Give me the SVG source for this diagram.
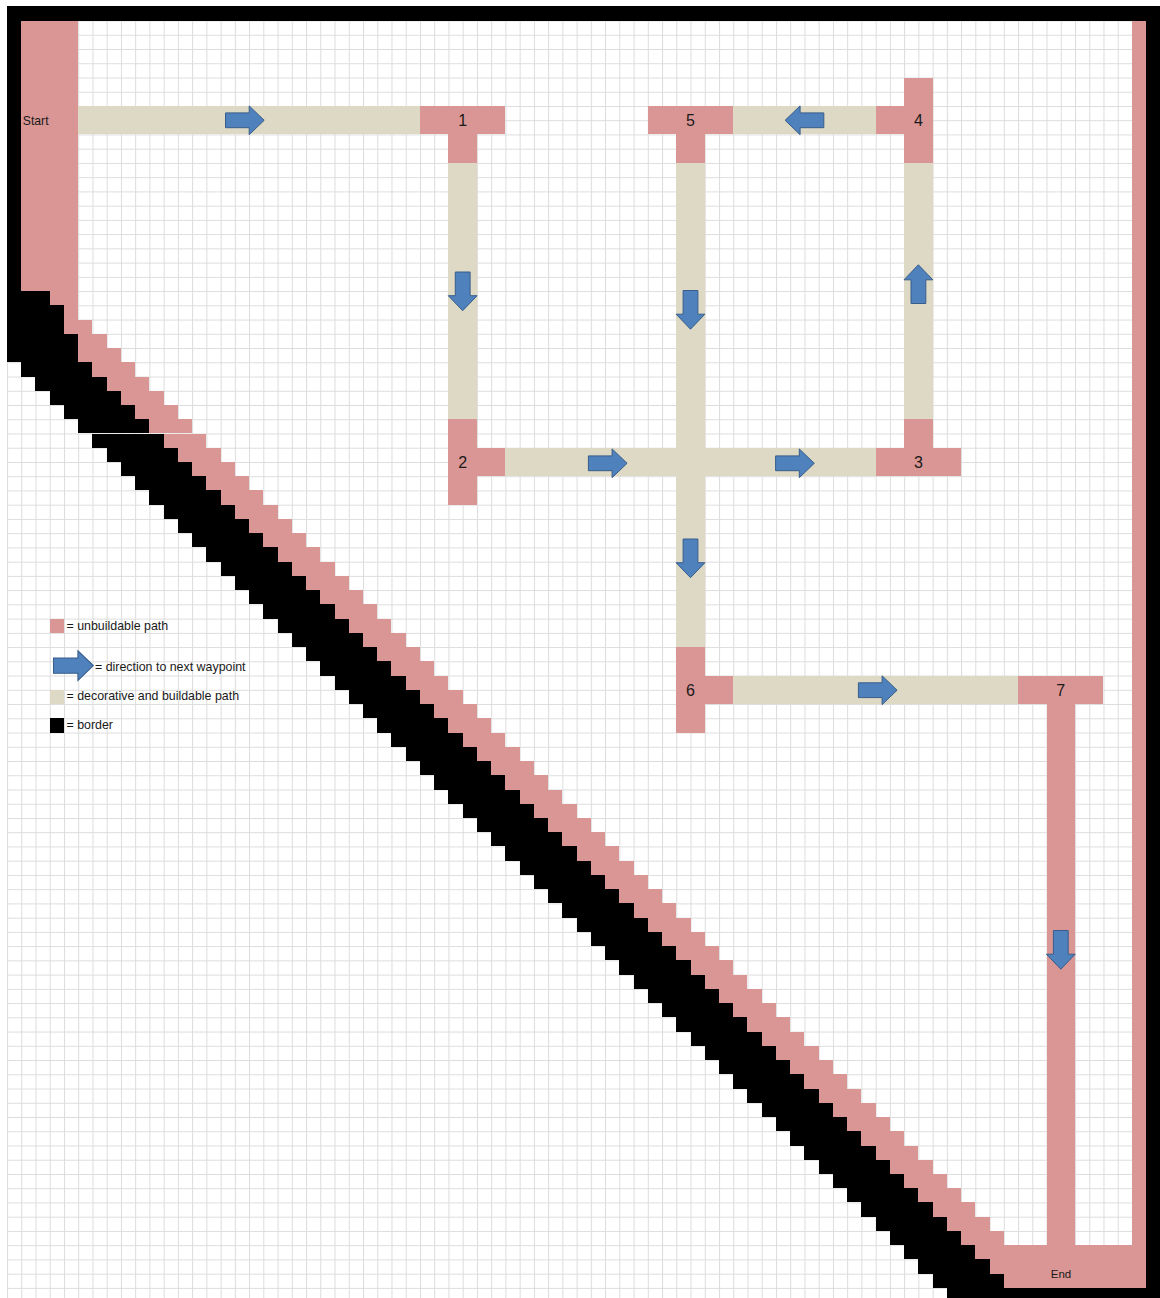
<svg xmlns="http://www.w3.org/2000/svg" width="1160" height="1298" viewBox="0 0 1160 1298">
  <style>
    .pk { fill: #DA9694; }
    .bg { fill: #DDD9C4; }
    .bk { fill: #000000; }
    .arrow { fill: #4F81BD; stroke: #385D8A; stroke-width: 1; }
    .num { font-family: "Liberation Sans", Arial, sans-serif; font-size: 16px; fill: #1a1a1a; text-anchor: middle; }
    .lbl { font-family: "Liberation Sans", Arial, sans-serif; font-size: 12.2px; fill: #1a1a1a; }
    .leg { font-family: "Liberation Sans", Arial, sans-serif; font-size: 12.4px; fill: #1a1a1a; }
  </style>
  <defs>
    <pattern id="grid" x="7" y="6.3" width="14.24" height="14.24" patternUnits="userSpaceOnUse">
      <rect width="14.24" height="14.24" fill="#ffffff"/>
      <path d="M0 0.5H14.24M0.5 0V14.24" stroke="#DCDCDC" stroke-width="1" fill="none"/>
    </pattern>
    <path id="arr" d="M0,-7.4 H23.7 V-14.4 L38.7,0 L23.7,14.4 V7.4 H0 Z"/>
    <!-- diagonal of unit cells, doubled up to 64 cells at (k,k) -->
    <rect id="c0" x="0" y="0" width="1" height="1"/>
    <g id="c1"><use href="#c0"/><use href="#c0" x="1" y="1"/></g>
    <g id="c2"><use href="#c1"/><use href="#c1" x="2" y="2"/></g>
    <g id="c3"><use href="#c2"/><use href="#c2" x="4" y="4"/></g>
    <g id="c4"><use href="#c3"/><use href="#c3" x="8" y="8"/></g>
    <g id="c5"><use href="#c4"/><use href="#c4" x="16" y="16"/></g>
    <g id="c6"><use href="#c5"/><use href="#c5" x="32" y="32"/></g>
  </defs>

  <rect x="0" y="0" width="1160" height="1298" fill="#ffffff"/>
  <rect x="7" y="6.3" width="1153" height="1292" fill="url(#grid)"/>

  <g id="map" transform="translate(7 6.3) scale(14.24)" shape-rendering="crispEdges">
    <g id="border" class="bk">
      <rect x="0" y="0" width="81" height="1"/>
      <rect x="0" y="0" width="1" height="25"/>
      <rect x="80" y="0" width="1" height="92"/>
      <rect x="66" y="90" width="15" height="2"/>
      <rect x="0" y="20" width="3" height="1"/>
      <rect x="0" y="21" width="4" height="2"/>
      <rect x="0" y="23" width="5" height="2"/>
      <use href="#c6" x="1" y="25"/>
      <use href="#c6" x="2" y="25"/>
      <use href="#c6" x="3" y="25"/>
      <use href="#c6" x="4" y="25"/>
      <use href="#c6" x="5" y="25"/>
      <rect x="65" y="89" width="5" height="1"/>
    </g>
    <g id="diagonal-path" class="pk">
      <rect x="3" y="20" width="2" height="1"/>
      <rect x="4" y="21" width="1" height="1"/>
      <rect x="4" y="22" width="2" height="1"/>
      <rect x="5" y="23" width="2" height="1"/>
      <rect x="5" y="24" width="3" height="1"/>
      <use href="#c6" x="6" y="25"/>
      <use href="#c6" x="7" y="25"/>
      <use href="#c6" x="8" y="25"/>
      <rect x="79" y="1" width="1" height="89"/>
    </g>

    <g id="connectors">
      <rect class="bg" x="5" y="7" width="24" height="2"/>
      <rect class="bg" x="31" y="11" width="2" height="18"/>
      <rect class="bg" x="35" y="31" width="26" height="2"/>
      <rect class="bg" x="63" y="11" width="2" height="18"/>
      <rect class="bg" x="51" y="7" width="10" height="2"/>
      <rect class="bg" x="47" y="11" width="2" height="34"/>
      <rect class="bg" x="51" y="47" width="20" height="2"/>
      <rect class="pk" x="73" y="49" width="2" height="38"/>
    </g>

    <g id="node-start" class="pk"><rect x="1" y="1" width="4" height="19"/></g>
    <g id="node-1" class="pk"><rect x="29" y="7" width="6" height="2"/><rect x="31" y="9" width="2" height="2"/></g>
    <g id="node-2" class="pk"><rect x="31" y="29" width="2" height="6"/><rect x="33" y="31" width="2" height="2"/></g>
    <g id="node-3" class="pk"><rect x="61" y="31" width="6" height="2"/><rect x="63" y="29" width="2" height="2"/></g>
    <g id="node-4" class="pk"><rect x="63" y="5" width="2" height="6"/><rect x="61" y="7" width="2" height="2"/></g>
    <g id="node-5" class="pk"><rect x="45" y="7" width="6" height="2"/><rect x="47" y="9" width="2" height="2"/></g>
    <g id="node-6" class="pk"><rect x="47" y="45" width="2" height="6"/><rect x="49" y="47" width="2" height="2"/></g>
    <g id="node-7" class="pk"><rect x="71" y="47" width="6" height="2"/></g>
    <g id="node-end" class="pk"><rect x="70" y="87" width="10" height="3"/></g>
  </g>

  <g id="arrows">
    <use href="#arr" class="arrow" transform="translate(225.5 120.3)"/>
    <use href="#arr" class="arrow" transform="translate(462.7 272) rotate(90)"/>
    <use href="#arr" class="arrow" transform="translate(588.4 463.3)"/>
    <use href="#arr" class="arrow" transform="translate(775.6 463.3)"/>
    <use href="#arr" class="arrow" transform="translate(918.4 303.5) rotate(-90)"/>
    <use href="#arr" class="arrow" transform="translate(823.8 120.3) rotate(180)"/>
    <use href="#arr" class="arrow" transform="translate(690.5 290.5) rotate(90)"/>
    <use href="#arr" class="arrow" transform="translate(690.5 539) rotate(90)"/>
    <use href="#arr" class="arrow" transform="translate(858.4 690.2)"/>
    <use href="#arr" class="arrow" transform="translate(1060.8 930.5) rotate(90)"/>
  </g>

  <g id="labels">
    <text class="lbl" x="22.8" y="124.6">Start</text>
    <text class="num" x="462.7" y="126.3">1</text>
    <text class="num" x="462.7" y="468.2">2</text>
    <text class="num" x="918.4" y="468.2">3</text>
    <text class="num" x="918.4" y="126.3">4</text>
    <text class="num" x="690.5" y="126.3">5</text>
    <text class="num" x="690.5" y="696">6</text>
    <text class="num" x="1060.8" y="696">7</text>
    <text class="lbl" x="1061" y="1277.5" text-anchor="middle" style="font-size:11.5px">End</text>
  </g>

  <g id="legend">
    <rect class="pk" x="49.7" y="618.6" width="14.24" height="14.24" shape-rendering="crispEdges"/>
    <text class="leg" x="66.5" y="629.6">= unbuildable path</text>
    <use href="#arr" class="arrow" transform="translate(53.5 665.6) scale(1.03)"/>
    <text class="leg" x="95" y="671">= direction to next waypoint</text>
    <rect class="bg" x="49.7" y="689.8" width="14.24" height="14.24" shape-rendering="crispEdges"/>
    <text class="leg" x="66.5" y="700.2">= decorative and buildable path</text>
    <rect class="bk" x="49.7" y="718.3" width="14.24" height="14.24" shape-rendering="crispEdges"/>
    <text class="leg" x="66.5" y="728.7">= border</text>
  </g>
</svg>
